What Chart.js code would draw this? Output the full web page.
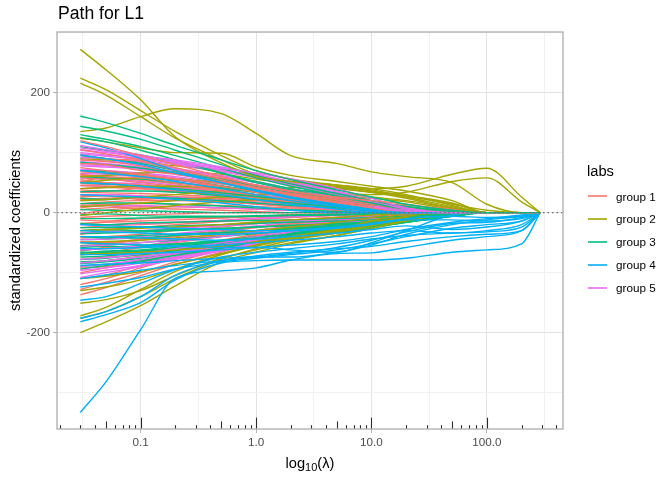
<!DOCTYPE html>
<html>
<head>
<meta charset="utf-8">
<title>Path for L1</title>
<script src="https://cdn.jsdelivr.net/npm/chart.js@4.4.1/dist/chart.umd.min.js"></script>
<style>
  html, body { margin: 0; padding: 0; background: #fff; }
  #wrap { position: relative; width: 672px; height: 480px; font-family: 'Liberation Sans', Arial, sans-serif; color: #000; }
  #wrap canvas { position: absolute; left: 0; top: 0; }
  .txt { position: absolute; white-space: nowrap; line-height: 1; }
  #title { left: 58px; top: 5px; font-size: 17.6px; }
  #xtitle { left: 310px; top: 456px; font-size: 14.67px; transform: translateX(-50%); }
  #xtitle sub { font-size: 11px; vertical-align: -3px; line-height: 0; }
  #legtitle { left: 587px; top: 164px; font-size: 14.67px; }
  .key { position: absolute; left: 588px; width: 19px; height: 2px; opacity: 0.8; }
  .keylab { position: absolute; left: 616px; font-size: 11.7px; line-height: 1; white-space: nowrap; }
</style>
</head>
<body>
<div id="wrap">
  <canvas id="pathChart" width="672" height="480"></canvas>
  <div class="txt" id="title">Path for L1</div>
  <div class="txt" id="xtitle">log<sub>10</sub>(λ)</div>
  <div class="txt" id="legtitle">labs</div>
  <div id="legend"></div>
</div>
<script>
const LAMBDA = [0.03, 0.05, 0.1, 0.2, 0.5, 1, 2, 5, 10, 20, 50, 100, 200, 290];

const X_TICKS = [0.1, 1, 10, 100];
const X_TICK_LABELS = ['0.1', '1.0', '10.0', '100.0'];
const X_MINOR = [0.0316, 0.316, 3.16, 31.6, 316];
const Y_TICKS = [-200, 0, 200];
const Y_MINOR = [-300, -100, 100, 300];
const Y_TITLE = 'standardized coefficients';

const GROUP_LABELS = ['group 1', 'group 2', 'group 3', 'group 4', 'group 5'];
const GROUP_COLORS = ['#F8766D', '#A3A500', '#00BF7D', '#00B0F6', '#E76BF3'];

// group 1 (salmon)
const GROUP1_PATHS = [
  [120, 110, 95, 80, 60, 45, 35, 26, 20, 14, 4, 0, 0, 0],
  [105, 98, 88, 75, 55, 42, 30, 18, 8, 0, 0, 0, 0, 0],
  [96, 90, 86, 70, 58, 46, 36, 24, 14, 6, 0, 0, 0, 0],
  [88, 85, 78, 66, 50, 38, 28, 16, 6, 0, 0, 0, 0, 0],
  [82, 80, 70, 64, 52, 40, 32, 22, 14, 8, 2, 0, 0, 0],
  [75, 70, 64, 56, 44, 34, 26, 18, 12, 8, 2, 0, 0, 0],
  [68, 66, 62, 56, 48, 40, 32, 24, 16, 10, 4, 0, 0, 0],
  [64, 60, 58, 50, 44, 36, 30, 22, 16, 12, 6, 0, 0, 0],
  [62, 60, 55, 48, 38, 30, 22, 14, 8, 3, 0, 0, 0, 0],
  [58, 56, 50, 44, 36, 28, 20, 12, 5, 0, 0, 0, 0, 0],
  [55, 50, 46, 40, 34, 28, 22, 16, 10, 6, 1, 0, 0, 0],
  [52, 58, 54, 50, 40, 34, 26, 20, 12, 6, 0, 0, 0, 0],
  [48, 47, 44, 40, 32, 24, 16, 8, 2, 0, 0, 0, 0, 0],
  [45, 44, 42, 38, 32, 26, 20, 14, 10, 6, 2, 0, 0, 0],
  [40, 42, 40, 36, 30, 24, 18, 12, 7, 3, 0, 0, 0, 0],
  [38, 36, 40, 34, 30, 26, 20, 16, 12, 8, 3, 0, 0, 0],
  [34, 33, 32, 30, 26, 22, 18, 13, 9, 5, 1, 0, 0, 0],
  [28, 30, 28, 24, 20, 15, 10, 5, 1, 0, 0, 0, 0, 0],
  [26, 28, 22, 26, 22, 18, 14, 10, 6, 2, 0, 0, 0, 0],
  [22, 24, 26, 26, 24, 20, 16, 12, 8, 5, 2, 0, 0, 0],
  [20, 22, 24, 22, 18, 14, 10, 6, 2, 0, 0, 0, 0, 0],
  [15, 18, 20, 20, 18, 15, 12, 9, 6, 3, 0, 0, 0, 0],
  [12, 14, 15, 14, 12, 10, 8, 5, 3, 1, 0, 0, 0, 0],
  [8, 12, 6, 10, 8, 6, 6, 4, 2, 0, 0, 0, 0, 0],
  [5, 8, 10, 10, 8, 6, 4, 2, 0, 0, 0, 0, 0, 0],
  [-2, 4, 8, 6, 4, 2, 0, 0, 0, 0, 0, 0, 0, 0],
  [-8, -6, -4, -2, 0, 0, 0, 0, 0, 0, 0, 0, 0, 0],
  [-12, -14, -10, -8, -8, -6, -4, -2, 0, 0, 0, 0, 0, 0],
  [-18, -16, -14, -12, -9, -6, -4, -2, 0, 0, 0, 0, 0, 0],
  [-25, -22, -20, -17, -13, -9, -6, -3, -1, 0, 0, 0, 0, 0],
  [-30, -28, -25, -20, -15, -11, -8, -5, -3, -1, 0, 0, 0, 0],
  [-36, -30, -32, -26, -20, -16, -12, -8, -5, -2, 0, 0, 0, 0],
  [-42, -40, -36, -30, -24, -18, -13, -8, -4, -1, 0, 0, 0, 0],
  [-48, -50, -44, -38, -30, -24, -18, -12, -7, -3, 0, 0, 0, 0],
  [-55, -52, -46, -40, -32, -25, -19, -12, -6, -2, 0, 0, 0, 0],
  [-64, -58, -56, -46, -38, -30, -22, -14, -8, -3, 0, 0, 0, 0],
  [-70, -66, -58, -50, -40, -32, -24, -15, -8, -3, 0, 0, 0, 0],
  [-78, -74, -70, -58, -46, -36, -26, -16, -8, -2, 0, 0, 0, 0],
  [-85, -80, -72, -62, -48, -38, -28, -18, -10, -4, 0, 0, 0, 0],
  [-92, -90, -80, -70, -56, -44, -32, -20, -10, -3, 0, 0, 0, 0],
  [-100, -92, -80, -68, -52, -40, -30, -20, -11, -4, 0, 0, 0, 0],
  [-110, -104, -88, -74, -56, -44, -32, -20, -10, -3, 0, 0, 0, 0],
  [-120, -110, -92, -76, -58, -45, -34, -22, -12, -5, 0, 0, 0, 0],
  [-128, -116, -100, -82, -62, -48, -36, -24, -14, -6, 0, 0, 0, 0],
  [-137, -125, -105, -86, -66, -50, -38, -24, -14, -6, 0, 0, 0, 0]
];

// group 2 (olive)
const GROUP2_PATHS = [
  [272, 238, 188, 126, 83, 60, 52, 46, 40, 30, 12, 0, 0, 0],
  [224, 205, 170, 135, 95, 70, 56, 46, 38, 28, 14, 4, 0, 0],
  [216, 196, 160, 124, 88, 64, 50, 42, 34, 24, 8, 0, 0, 0],
  [135, 141, 160, 173, 165, 132, 95, 82, 68, 60, 50, 14, 0, 0],
  [124, 118, 108, 100, 99, 76, 62, 52, 44, 36, 20, 0, 0, 0],
  [90, 88, 84, 78, 70, 60, 52, 44, 36, 26, 10, 0, 0, 0],
  [60, 62, 66, 68, 64, 56, 48, 40, 34, 28, 16, 0, 0, 0],
  [50, 54, 58, 56, 50, 44, 38, 32, 26, 20, 8, 0, 0, 0],
  [40, 42, 44, 44, 40, 34, 28, 20, 12, 4, 0, 0, 0, 0],
  [20, 22, 26, 30, 36, 40, 42, 42, 40, 44, 64, 74, 26, 0],
  [10, 12, 16, 20, 26, 30, 32, 32, 30, 34, 52, 58, 18, 0],
  [-5, 0, 6, 12, 18, 22, 24, 26, 24, 18, 6, 0, 0, 0],
  [-30, -28, -26, -24, -20, -16, -12, -8, -4, 0, 0, 0, 0, 0],
  [-50, -48, -46, -42, -36, -30, -24, -16, -8, 0, 0, 0, 0, 0],
  [-70, -68, -66, -62, -56, -48, -40, -28, -14, -2, 0, 0, 0, 0],
  [-110, -106, -98, -86, -68, -54, -42, -30, -18, -6, 0, 0, 0, 0],
  [-130, -124, -112, -94, -70, -56, -44, -32, -20, -8, 0, 0, 0, 0],
  [-151, -145, -130, -105, -76, -62, -50, -38, -26, -14, -2, 0, 0, 0],
  [-172, -158, -128, -98, -70, -54, -40, -28, -16, -6, 0, 0, 0, 0],
  [-176, -165, -140, -110, -78, -60, -46, -34, -22, -10, 0, 0, 0, 0],
  [-200, -182, -155, -122, -82, -66, -52, -38, -26, -12, 0, 0, 0, 0]
];

// group 3 (green)
const GROUP3_PATHS = [
  [161, 150, 132, 112, 88, 70, 55, 38, 26, 14, 4, 0, 0, 0],
  [144, 136, 122, 104, 80, 62, 48, 32, 20, 10, 2, 0, 0, 0],
  [130, 122, 110, 95, 74, 58, 44, 28, 16, 6, 0, 0, 0, 0],
  [125, 118, 104, 88, 66, 50, 38, 24, 14, 6, 0, 0, 0, 0],
  [110, 104, 96, 84, 66, 52, 40, 28, 18, 10, 2, 0, 0, 0],
  [95, 90, 82, 70, 56, 45, 35, 24, 15, 8, 2, 0, 0, 0],
  [84, 80, 74, 66, 54, 44, 34, 24, 16, 8, 2, 0, 0, 0],
  [70, 68, 62, 55, 45, 36, 28, 18, 10, 4, 0, 0, 0, 0],
  [60, 58, 56, 50, 42, 34, 26, 18, 12, 6, 0, 0, 0, 0],
  [50, 48, 44, 40, 33, 27, 21, 14, 8, 3, 0, 0, 0, 0],
  [35, 36, 36, 34, 28, 22, 16, 10, 5, 2, 0, 0, 0, 0],
  [24, 22, 26, 24, 20, 16, 12, 8, 4, 1, 0, 0, 0, 0],
  [15, 16, 16, 14, 11, 8, 5, 2, 0, 0, 0, 0, 0, 0],
  [5, 4, 3, 2, 0, 0, 0, 0, 0, 0, 0, 0, 0, 0],
  [-4, -2, -5, -6, -6, -5, -4, -3, -2, -1, 0, 0, 0, 0],
  [-10, -10, -9, -8, -7, -6, -5, -4, -3, -2, -1, 0, 0, 0],
  [-18, -20, -17, -16, -14, -13, -12, -10, -8, -6, -2, 0, 0, 0],
  [-25, -25, -24, -22, -20, -18, -16, -14, -12, -8, -3, 0, 0, 0],
  [-30, -28, -30, -28, -26, -24, -22, -19, -16, -12, -6, 0, 0, 0],
  [-35, -34, -32, -30, -27, -24, -21, -18, -15, -10, -4, 0, 0, 0],
  [-40, -42, -38, -36, -33, -30, -27, -23, -18, -12, -4, 0, 0, 0],
  [-45, -44, -42, -38, -34, -30, -26, -21, -17, -12, -5, 0, 0, 0],
  [-50, -52, -54, -52, -47, -42, -36, -28, -20, -12, -4, 0, 0, 0],
  [-55, -54, -50, -46, -40, -35, -30, -24, -18, -12, -4, 0, 0, 0],
  [-58, -56, -58, -54, -48, -42, -36, -30, -24, -16, -6, 0, 0, 0],
  [-62, -60, -57, -52, -46, -40, -34, -26, -19, -11, -3, 0, 0, 0],
  [-66, -66, -64, -60, -54, -48, -42, -34, -26, -16, -6, 0, 0, 0],
  [-68, -64, -62, -56, -50, -44, -38, -30, -22, -14, -4, 0, 0, 0],
  [-70, -68, -64, -58, -51, -44, -37, -28, -20, -12, -3, 0, 0, 0],
  [-74, -72, -66, -62, -54, -46, -38, -30, -22, -14, -4, 0, 0, 0],
  [-78, -76, -70, -64, -55, -47, -39, -29, -20, -11, -2, 0, 0, 0],
  [-82, -80, -74, -66, -56, -48, -40, -32, -24, -16, -6, 0, 0, 0],
  [-85, -82, -76, -68, -58, -49, -40, -30, -21, -12, -2, 0, 0, 0],
  [-90, -86, -80, -71, -60, -50, -41, -30, -20, -10, -1, 0, 0, 0],
  [-94, -88, -82, -74, -62, -52, -42, -32, -22, -12, -3, 0, 0, 0]
];

// group 4 (blue)
const GROUP4_PATHS = [
  [118, 108, 90, 70, 50, 36, 24, 12, 4, 0, 0, 0, 0, 0],
  [96, 90, 80, 66, 50, 38, 26, 14, 6, 0, 0, 0, 0, 0],
  [70, 66, 60, 52, 40, 30, 20, 10, 2, 0, 0, 0, 0, 0],
  [50, 48, 44, 38, 30, 22, 14, 6, 0, 0, 0, 0, 0, 0],
  [30, 28, 26, 22, 16, 10, 4, 0, 0, 0, 0, 0, 0, 0],
  [-20, -22, -24, -26, -28, -30, -30, -26, -20, -12, -12, -14, -10, 0],
  [-30, -32, -34, -36, -36, -34, -30, -24, -18, -10, -6, -8, -6, 0],
  [-40, -40, -42, -44, -46, -44, -40, -34, -28, -22, -28, -24, -14, 0],
  [-50, -52, -54, -56, -58, -58, -62, -66, -50, -30, -4, 0, 0, 0],
  [-60, -60, -58, -56, -54, -50, -46, -40, -34, -30, -34, -30, -20, 0],
  [-70, -70, -68, -66, -62, -58, -54, -48, -40, -28, -16, -10, -4, 0],
  [-88, -86, -84, -80, -76, -74, -74, -66, -54, -36, -20, -12, -6, 0],
  [-110, -104, -96, -88, -80, -74, -68, -58, -46, -32, -18, -16, -8, 0],
  [-124, -118, -108, -94, -82, -76, -70, -62, -52, -40, -26, -20, -14, 0],
  [-146, -140, -118, -95, -74, -66, -60, -52, -44, -38, -34, -32, -24, 0],
  [-176, -165, -140, -104, -80, -72, -66, -60, -56, -48, -40, -36, -30, 0],
  [-182, -170, -150, -112, -84, -80, -79, -79, -79, -76, -66, -62, -52, 0],
  [-333, -282, -195, -109, -97, -92, -79, -68, -67, -58, -46, -40, -30, 0]
];

// group 5 (pink)
const GROUP5_PATHS = [
  [112, 105, 96, 86, 74, 66, 56, 40, 24, 8, 0, 0, 0, 0],
  [108, 102, 94, 88, 76, 64, 52, 36, 20, 6, 0, 0, 0, 0],
  [104, 100, 92, 84, 72, 62, 50, 34, 18, 4, 0, 0, 0, 0],
  [100, 96, 90, 82, 70, 60, 48, 32, 16, 2, 0, 0, 0, 0],
  [98, 94, 88, 80, 68, 58, 46, 30, 14, 0, 0, 0, 0, 0],
  [92, 90, 84, 74, 62, 52, 40, 24, 10, 0, 0, 0, 0, 0],
  [88, 86, 80, 72, 60, 50, 40, 26, 12, 0, 0, 0, 0, 0],
  [85, 82, 76, 68, 56, 46, 36, 22, 8, 0, 0, 0, 0, 0],
  [80, 78, 74, 66, 56, 46, 36, 22, 8, 0, 0, 0, 0, 0],
  [78, 76, 72, 64, 54, 44, 34, 20, 6, 0, 0, 0, 0, 0],
  [72, 70, 66, 60, 50, 40, 30, 18, 6, 0, 0, 0, 0, 0],
  [70, 68, 64, 58, 48, 40, 32, 20, 8, 0, 0, 0, 0, 0],
  [65, 64, 60, 54, 44, 36, 28, 16, 5, 0, 0, 0, 0, 0],
  [58, 56, 52, 46, 38, 30, 22, 12, 4, 0, 0, 0, 0, 0],
  [52, 50, 48, 42, 36, 30, 24, 14, 5, 0, 0, 0, 0, 0],
  [45, 44, 40, 36, 30, 24, 18, 10, 3, 0, 0, 0, 0, 0],
  [30, 30, 28, 25, 20, 16, 12, 6, 2, 0, 0, 0, 0, 0],
  [10, 12, 12, 10, 8, 6, 4, 2, 0, 0, 0, 0, 0, 0],
  [-20, -20, -18, -16, -13, -10, -7, -4, -1, 0, 0, 0, 0, 0],
  [-34, -32, -30, -26, -22, -18, -14, -8, -3, 0, 0, 0, 0, 0],
  [-45, -44, -40, -35, -28, -22, -16, -10, -4, 0, 0, 0, 0, 0],
  [-56, -54, -50, -44, -36, -30, -22, -12, -5, 0, 0, 0, 0, 0],
  [-62, -60, -55, -48, -40, -32, -24, -14, -6, 0, 0, 0, 0, 0],
  [-78, -75, -68, -60, -50, -40, -30, -18, -8, 0, 0, 0, 0, 0],
  [-84, -80, -74, -66, -54, -44, -32, -18, -7, 0, 0, 0, 0, 0],
  [-90, -86, -78, -68, -56, -46, -34, -20, -8, 0, 0, 0, 0, 0],
  [-96, -92, -84, -74, -62, -52, -40, -24, -10, 0, 0, 0, 0, 0],
  [-102, -96, -88, -76, -62, -50, -36, -20, -8, 0, 0, 0, 0, 0],
  [-108, -100, -90, -78, -64, -52, -38, -22, -9, 0, 0, 0, 0, 0]
];

const GROUP_PATHS = [GROUP1_PATHS, GROUP2_PATHS, GROUP3_PATHS, GROUP4_PATHS, GROUP5_PATHS];

// interleave the coefficient paths; dataset 0 is painted last (on top)
const DRAW_ORDER = [2, 0, 4, 1, 3];
const datasets = [];
const longest = Math.max(...GROUP_PATHS.map(p => p.length));
for (let i = 0; i < longest; i++) {
    for (const g of DRAW_ORDER) {
        const path = GROUP_PATHS[g][i];
        if (!path) continue;
        datasets.push({
            label: GROUP_LABELS[g],
            data: LAMBDA.map((l, k) => ({x: l, y: path[k]})),
            borderColor: GROUP_COLORS[g],
            borderWidth: 1.4,
            pointRadius: 0,
            fill: false,
            cubicInterpolationMode: 'monotone'
        });
    }
}

// zero reference line, log ticks along the bottom, panel border, y title
const panelDecor = {
    id: 'panelDecor',
    afterDatasetsDraw(chart) {
        const {ctx, chartArea: a, scales: {x, y}} = chart;
        ctx.save();
        const y0 = y.getPixelForValue(0);
        ctx.beginPath();
        ctx.setLineDash([1.5, 3]);
        ctx.strokeStyle = '#6e6e6e';
        ctx.lineWidth = 1.3;
        ctx.moveTo(a.left, y0);
        ctx.lineTo(a.right, y0);
        ctx.stroke();

        ctx.setLineDash([]);
        ctx.strokeStyle = '#2b2b2b';
        ctx.lineWidth = 1.1;
        for (let k = -2; k <= 2; k++) {
            for (let m = 1; m <= 9; m++) {
                const v = m * Math.pow(10, k);
                if (v < x.min || v > x.max) continue;
                const px = Math.round(x.getPixelForValue(v)) + 0.5;
                const len = m === 1 ? 11.3 : (m === 5 ? 7.6 : 3.8);
                ctx.beginPath();
                ctx.moveTo(px, a.bottom);
                ctx.lineTo(px, a.bottom - len);
                ctx.stroke();
            }
        }

        ctx.strokeStyle = '#b3b3b3';
        ctx.lineWidth = 1.4;
        ctx.strokeRect(a.left, a.top, a.right - a.left, a.bottom - a.top);

        ctx.translate(16, (a.top + a.bottom) / 2);
        ctx.rotate(-Math.PI / 2);
        ctx.fillStyle = '#000';
        ctx.font = "14.67px 'Liberation Sans', Arial, sans-serif";
        ctx.textAlign = 'center';
        ctx.textBaseline = 'middle';
        ctx.fillText(Y_TITLE, 0, 0);
        ctx.restore();
    }
};

Chart.defaults.font.family = "'Liberation Sans', Arial, sans-serif";

const isMajorX = v => X_TICKS.some(t => Math.abs(t - v) < 1e-9);
const isMajorY = v => Y_TICKS.includes(v);

new Chart(document.getElementById('pathChart').getContext('2d'), {
    type: 'line',
    data: {datasets: datasets},
    options: {
        responsive: false,
        animation: false,
        events: [],
        layout: {padding: {top: 32, right: 109, bottom: 0, left: 0}},
        plugins: {legend: {display: false}, tooltip: {enabled: false}, title: {display: false}},
        scales: {
            x: {
                type: 'logarithmic',
                min: Math.pow(10, -1.725),
                max: Math.pow(10, 2.66),
                bounds: 'data',
                afterBuildTicks: s => {
                    s.ticks = X_TICKS.concat(X_MINOR).sort((a, b) => a - b).map(v => ({value: v}));
                },
                afterFit: s => { s.height = 51; },
                ticks: {
                    autoSkip: false,
                    maxRotation: 0,
                    minRotation: 0,
                    padding: 3,
                    color: '#4D4D4D',
                    font: {size: 11.7},
                    callback: v => {
                        const i = X_TICKS.findIndex(t => Math.abs(t - v) < 1e-9);
                        return i >= 0 ? X_TICK_LABELS[i] : '';
                    }
                },
                grid: {
                    color: c => isMajorX(c.tick.value) ? '#e3e3e3' : '#f1f1f1',
                    lineWidth: 1,
                    tickLength: 4,
                    tickColor: c => isMajorX(c.tick.value) ? '#b3b3b3' : 'rgba(0,0,0,0)'
                },
                border: {display: false}
            },
            y: {
                type: 'linear',
                min: -360.5,
                max: 301,
                bounds: 'data',
                afterBuildTicks: s => {
                    s.ticks = Y_TICKS.concat(Y_MINOR).sort((a, b) => a - b).map(v => ({value: v}));
                },
                afterFit: s => { s.width = 57; },
                ticks: {
                    padding: 3,
                    color: '#4D4D4D',
                    font: {size: 11.7},
                    callback: v => isMajorY(v) ? String(v) : ''
                },
                grid: {
                    color: c => isMajorY(c.tick.value) ? '#e3e3e3' : '#f1f1f1',
                    lineWidth: 1,
                    tickLength: 4,
                    tickColor: c => isMajorY(c.tick.value) ? '#b3b3b3' : 'rgba(0,0,0,0)'
                },
                border: {display: false}
            }
        }
    },
    plugins: [panelDecor]
});

// legend built from the group names and colours
const legend = document.getElementById('legend');
GROUP_LABELS.forEach((name, i) => {
    const key = document.createElement('div');
    key.className = 'key';
    key.style.top = (195 + i * 23) + 'px';
    key.style.background = GROUP_COLORS[i];
    legend.appendChild(key);
    const lab = document.createElement('div');
    lab.className = 'keylab';
    lab.style.top = (190.5 + i * 22.9) + 'px';
    lab.textContent = name;
    legend.appendChild(lab);
});
</script>
</body>
</html>
